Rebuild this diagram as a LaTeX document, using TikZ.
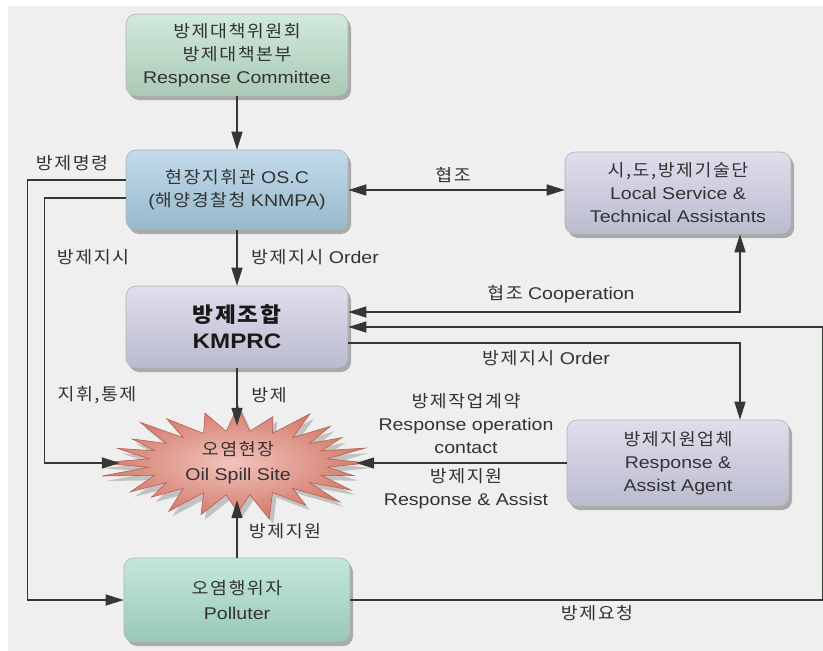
\documentclass[tikz,border=0pt]{standalone}
\usepackage{fontspec}
\setmainfont{Liberation Sans}[FakeStretch=1.15]
\newfontfamily\kr{Noto Sans CJK KR}[FakeStretch=1.08,LetterSpace=9]
\newcommand\K[1]{{\kr #1}}
\usetikzlibrary{arrows.meta,shadows,shapes.geometric}
\definecolor{bgc}{HTML}{EFEFEF}
\definecolor{topc}{HTML}{BDE0CB}
\definecolor{oscc}{HTML}{A8CCE2}
\definecolor{lavc}{HTML}{D0D0E6}
\definecolor{polc}{HTML}{AADECC}
\definecolor{linec}{HTML}{333833}
\definecolor{txtc}{HTML}{333333}
\definecolor{burstin}{HTML}{F2C4BC}
\definecolor{burstout}{HTML}{D2786A}
\definecolor{burstedge}{HTML}{B8604F}
\tikzset{
  box/.style={rounded corners=10pt, minimum width=222pt, minimum height=82pt,
    align=center, font=\fontsize{17}{23}\selectfont, text=txtc,
    draw=black!30, line width=.6pt,
    drop shadow={shadow xshift=3pt,shadow yshift=-4pt,fill=black!60,opacity=.5}},
  conn/.style={draw=linec, line width=1.5pt},
  lbl/.style={font=\fontsize{17}{23}\selectfont, text=txtc, align=center, inner sep=0pt},
}
\begin{document}
\begin{tikzpicture}[x=1pt,y=-1pt,>={Triangle[length=18pt,width=11pt]}]
\useasboundingbox (0,0) rectangle (823,651);
\fill[white] (0,0) rectangle (823,651);
\fill[bgc] (8,6) rectangle (823,651);

% boxes
\node[box, top color=topc!70!white, bottom color=topc!90!black] (top) at (237,55)
  {\K{방제대책위원회}\\ \K{방제대책본부}\\ Response Committee};
\node[box, minimum height=80pt, top color=oscc!70!white, bottom color=oscc!90!black] (osc) at (237,190)
  {\K{현장지휘관} OS.C\\ (\K{해양경찰청} KNMPA)};
\node[box, minimum width=226pt, top color=lavc!70!white, bottom color=lavc!90!black] (local) at (678,193)
  {\K{시,도,방제기술단}\\ Local Service \&\\ Technical Assistants};
\node[box, font=\fontsize{21}{26}\selectfont\bfseries, text=black!90, top color=lavc!70!white, bottom color=lavc!90!black] (kmprc) at (237,327)
  {\K{방제조합}\\ KMPRC};
\node[box, minimum height=86pt, top color=lavc!70!white, bottom color=lavc!90!black] (agent) at (678,463)
  {\K{방제지원업체}\\ Response \&\\ Assist Agent};
\node[box, minimum width=226pt, minimum height=84pt, font=\fontsize{17}{25}\selectfont, top color=polc!70!white, bottom color=polc!90!black] (polluter) at (237,600)
  {\K{오염행위자}\\ Polluter};

% starburst
\fill[black!50,opacity=.4,shift={(4,5)}] (368,463)
  \foreach \i [evaluate=\i as \rx using {mod(\i,2)==0 ? 132+12*sin(\i*137) : 90},
               evaluate=\i as \ry using {mod(\i,2)==0 ? 53+5*cos(\i*71) : 32}] in {1,...,47}
  { -- ({238+\rx*cos(\i*7.5)},{463+\ry*sin(\i*7.5)}) } -- cycle;
\path[draw=burstedge, line width=.6pt, inner color=burstin, outer color=burstout] (368,463)
  \foreach \i [evaluate=\i as \rx using {mod(\i,2)==0 ? 132+12*sin(\i*137) : 90},
               evaluate=\i as \ry using {mod(\i,2)==0 ? 53+5*cos(\i*71) : 32}] in {1,...,47}
  { -- ({238+\rx*cos(\i*7.5)},{463+\ry*sin(\i*7.5)}) } -- cycle;
\node[ellipse, minimum width=236pt, minimum height=74pt, inner sep=0pt, align=center,
  font=\fontsize{17}{25}\selectfont, text=txtc] (spill) at (238,463)
  {\K{오염현장}\\ Oil Spill Site};

% connectors
\draw[conn,->] (top) -- (osc);
\draw[conn,<->] (osc.east) -- (osc.east -| local.west);
\draw[conn,->] (osc) -- (kmprc);
\draw[conn,->] ([yshift=10pt]osc.west) -- ++(-98,0) |- (polluter.west);
\draw[conn,->] ([yshift=-8pt]osc.west) -- ++(-81,0) |- (spill.west);
\draw[conn,->] (kmprc.south) -- (kmprc.south |- spill.north);
\draw[conn,<->] ([yshift=15pt]kmprc.east) -| ([xshift=62pt]local.south);
\draw[conn,->] (polluter.east) -- ++(472,0) |- (kmprc.east);
\draw[conn,->] ([yshift=-16pt]kmprc.east) -| ([xshift=62pt]agent.north);
\draw[conn,->] (agent.west) -- (spill.east);
\draw[conn,->] (polluter.north) -- (polluter.north |- spill.south);

% labels
\node[lbl] (l1) at (72,163) {\K{방제명령}};
\node[lbl] (l2) at (93,257) {\K{방제지시}};
\node[lbl] (l3) at (97,395) {\K{지휘,통제}};
\node[lbl] (l4) at (453,175) {\K{협조}};
\node[lbl] (l5) at (315,257) {\K{방제지시} Order};
\node[lbl] (l6) at (561,294) {\K{협조} Cooperation};
\node[lbl] (l7) at (546,358) {\K{방제지시} Order};
\node[lbl] (l8) at (269,395) {\K{방제}};
\node[lbl] (l9) at (466,424) {\K{방제작업계약}\\ Response operation\\ contact};
\node[lbl] (l10) at (466,489) {\K{방제지원}\\ Response \& Assist};
\node[lbl] (l11) at (285,531) {\K{방제지원}};
\node[lbl] (l12) at (597,613) {\K{방제요청}};
\end{tikzpicture}
\end{document}
